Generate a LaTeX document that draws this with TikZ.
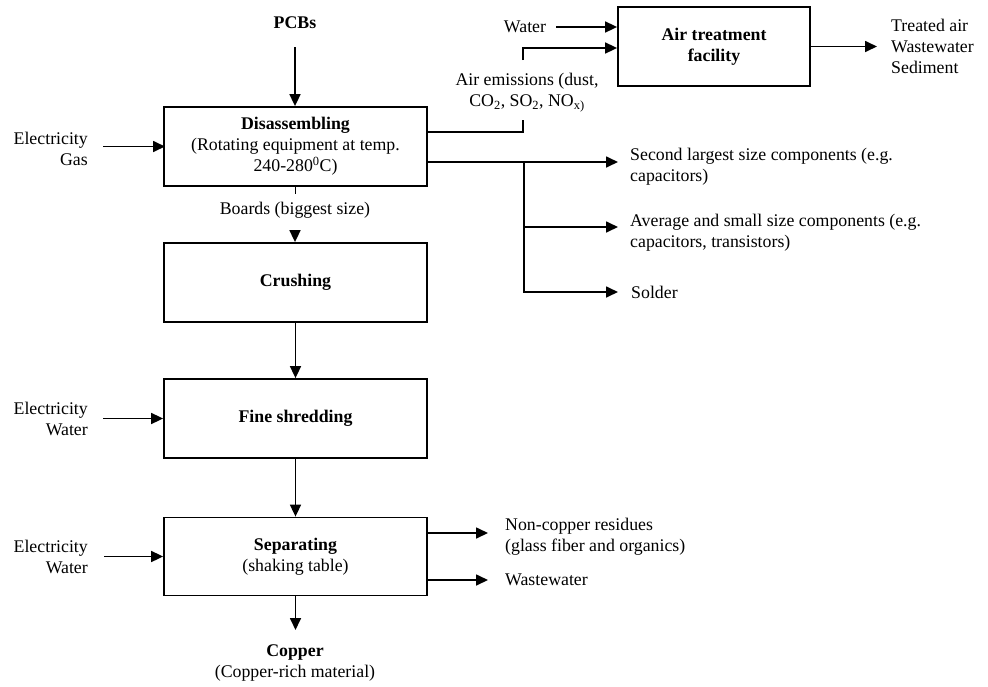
\documentclass[tikz,border=0pt]{standalone}
\usepackage{fontspec}
\setmainfont{Liberation Serif}
\usetikzlibrary{arrows.meta}
\begin{document}
\begin{tikzpicture}[x=1pt,y=-1pt,
  every node/.style={font=\fontsize{17.8}{21}\selectfont, inner sep=0pt},
  proc/.style={draw, line width=1.8pt, minimum width=263pt, align=center},
  flow/.style={line width=1.7pt, -{Triangle[length=12pt,width=11pt]}},
  wire/.style={line width=1.7pt},
  lefttext/.style={anchor=west, align=left},
  righttext/.style={anchor=east, align=right}]
\useasboundingbox (0,0) rectangle (988,686);

% process boxes
\node[proc, minimum height=79pt] (dis) at (295.5,146.5)
  {\textbf{Disassembling}\\(Rotating equipment at temp.\\240-280\textsuperscript{0}C)};
\node[proc, minimum height=79pt] (cru) at (295.5,282.5) {\textbf{Crushing}};
\node[proc, minimum height=79pt] (fin) at (295.5,418.5) {\textbf{Fine shredding}};
\node[proc, minimum height=78pt] (sep) at (295.5,556.5) {\textbf{Separating}\\(shaking table)};
\node[proc, minimum width=192pt, minimum height=79pt] (air) at (714,46.5)
  {\textbf{Air treatment}\\\textbf{facility}};

% labels
\node (pcb) at (295,23) {\textbf{PCBs}};
\node (brd) at (295,210) {Boards (biggest size)};
\node[align=center] (cu) at (295,662.5) {\textbf{Copper}\\(Copper-rich material)};
\node[righttext] (in1) at (88,148.5) {Electricity\\Gas};
\node[righttext] (in2) at (88,418.5) {Electricity\\Water};
\node[righttext] (in3) at (88,556.5) {Electricity\\Water};
\node[align=center] (emi) at (527,92.5) {Air emissions (dust,\\CO\textsubscript{2}, SO\textsubscript{2}, NO\textsubscript{x)}};
\node (wat) at (525,27) {Water};
\node[lefttext] (tre) at (891,46.5) {Treated air\\Wastewater\\Sediment};
\node[lefttext] (c1) at (630,166.5) {Second largest size components (e.g.\\capacitors)};
\node[lefttext] (c2) at (630,232.5) {Average and small size components (e.g.\\capacitors, transistors)};
\node[lefttext] (c3) at (631,292) {Solder};
\node[lefttext] (ncr) at (505,536.5) {Non-copper residues\\(glass fiber and organics)};
\node[lefttext] (ww) at (505,580) {Wastewater};

% main line
\coordinate (pcbs) at (295,47);
\draw[flow] (pcbs) -- (pcbs |- dis.north);
\draw[wire] (dis.south) -- ++(0,7);
\coordinate (brds) at (295,232);
\draw[flow] (brds) -- (brds |- cru.north);
\draw[flow] (cru) -- (fin);
\draw[flow] (fin) -- (sep);
\coordinate (cut) at (295.5,630);
\draw[flow] (sep.south) -- (cut);

% inputs on the left
\draw[flow] ([xshift=15pt,yshift=2pt]in1.east) -- ++(62,0);
\draw[flow] ([xshift=15pt]in2.east) -- (fin.west);
\draw[flow] ([xshift=16pt]in3.east) -- (sep.west);

% air emissions to treatment
\coordinate (eb) at (523,120);
\coordinate (et) at (523,60);
\draw[wire] ([yshift=14.5pt]dis.east) -| (eb);
\draw[flow] (et) |- ([yshift=-1.5pt]air.west);
\draw[flow] ([xshift=10pt]wat.east) -- (air.west |- wat.east);
\draw[flow] (air.east |- tre.west) -- ([xshift=-14pt]tre.west);

% separated components
\coordinate (bj) at (524,162);
\path ([yshift=5.5pt,xshift=-12pt]c2.west) coordinate (c2a);
\draw[flow] ([yshift=-15.5pt]dis.east) -- ([yshift=4.5pt,xshift=-12pt]c1.west);
\draw[flow] (bj) |- ([xshift=-13pt]c3.west);
\draw[flow] (bj |- c2a) -- (c2a);

% separating outputs
\draw[flow] ([yshift=3.5pt]sep.east |- ncr.west) -- ([xshift=-17pt,yshift=3.5pt]ncr.west);
\draw[flow] (sep.east |- ww.west) -- ([xshift=-17pt]ww.west);
\end{tikzpicture}
\end{document}
